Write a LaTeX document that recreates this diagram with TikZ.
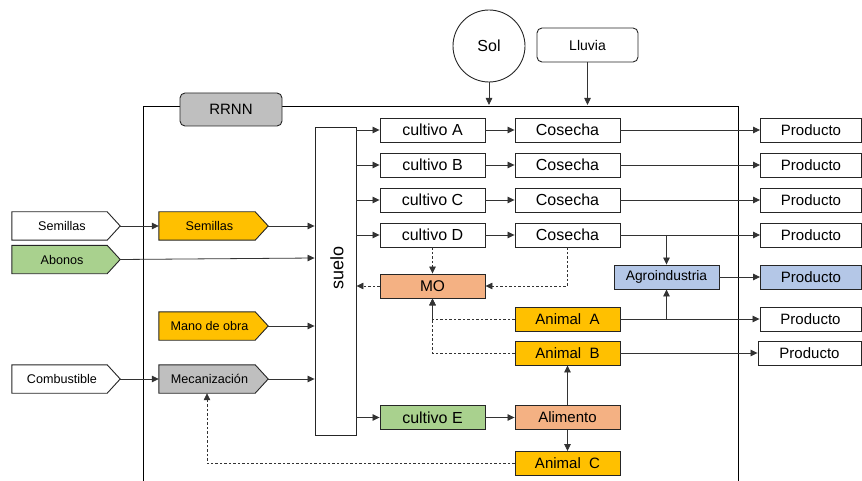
\documentclass[tikz,border=0pt]{standalone}
\usepackage{fontspec}
\setmainfont{Liberation Sans}
\usetikzlibrary{arrows.meta,calc}
\definecolor{cOrange}{HTML}{FFC000}
\definecolor{cGreen}{HTML}{A9D18E}
\definecolor{cSalmon}{HTML}{F4B183}
\definecolor{cBlue}{HTML}{B4C7E7}
\definecolor{cGray}{HTML}{BFBFBF}
\newcommand{\pentnode}[5]{%
  \node[pentarea,minimum width=#3] (#1) at #2 {};
  \filldraw[pentline,fill=#4] (#1.north west) -- ($(#1.north east)+(-13,0)$) -- (#1.east) -- ($(#1.south east)+(-13,0)$) -- (#1.south west) -- cycle;
  \node[font=\fontsize{12.6}{14}\selectfont,inner sep=0pt] at ($(#1.center)+(-4,0)$) {#5};
}
\begin{document}
\begin{tikzpicture}[x=1pt,y=-1pt,
  box/.style={draw=black!85,line width=0.9pt,rectangle,minimum width=105pt,minimum height=24pt,inner sep=0pt,font=\fontsize{16}{18}\selectfont},
  prodbox/.style={box,minimum width=101pt,font=\fontsize{15}{17}\selectfont},
  pentarea/.style={rectangle,minimum height=28pt,inner sep=0pt},
  pentline/.style={draw=black!85,line width=0.9pt},
  conn/.style={draw=black!80,line width=0.8pt,-{Triangle[length=7pt,width=6.5pt]}},
  dconn/.style={draw=black!80,line width=0.7pt,dash pattern=on 2.5pt off 2pt,-{Triangle[length=7pt,width=6.5pt]}}]
\useasboundingbox (0,0) rectangle (862,481);
% big frame
\draw[line width=0.9pt] (143,481) -- (143,106) -- (738,106) -- (738,481);
\node[draw=black!85,line width=0.9pt,fill=cGray,rounded corners=5pt,minimum width=102pt,minimum height=33pt,inner sep=0pt,font=\fontsize{15}{17}\selectfont] (rrnn) at (231,109.5) {RRNN};
% top inputs
\node[draw=black!85,line width=0.9pt,circle,minimum size=72pt,inner sep=0pt,font=\fontsize{16}{18}\selectfont] (sol) at (489,46) {Sol};
\node[draw=black!85,line width=0.9pt,rounded corners=5pt,minimum width=101pt,minimum height=34pt,inner sep=0pt,font=\fontsize{14}{16}\selectfont] (lluvia) at (587.5,45) {Lluvia};
\coordinate (solin) at (489,105);
\coordinate (lluin) at (587.5,105);
\draw[conn] (sol.south) -- (solin);
\draw[conn] (lluvia.south) -- (lluin);
% suelo
\node[draw=black!85,line width=0.9pt,minimum width=41pt,minimum height=308pt,inner sep=0pt] (suelo) at (335.5,281) {};
\node[rotate=90,font=\fontsize{18}{20}\selectfont] at (337,268) {suelo};
% crops
\node[box] (cA) at (432.5,130) {cultivo A};
\node[box] (cB) at (432.5,165) {cultivo B};
\node[box] (cC) at (432.5,200) {cultivo C};
\node[box] (cD) at (432.5,235) {cultivo D};
\node[box,fill=cGreen] (cE) at (432.5,417.5) {cultivo E};
\node[box] (kA) at (567.5,130) {Cosecha};
\node[box] (kB) at (567.5,165) {Cosecha};
\node[box] (kC) at (567.5,200) {Cosecha};
\node[box] (kD) at (567.5,235) {Cosecha};
\node[prodbox] (pA) at (811,130) {Producto};
\node[prodbox] (pB) at (811,165) {Producto};
\node[prodbox] (pC) at (811,200) {Producto};
\node[prodbox] (pD) at (811,235) {Producto};
\node[prodbox,fill=cBlue] (pG) at (811,277) {Producto};
\node[prodbox] (pAA) at (810.5,319) {Producto};
\node[prodbox,minimum width=103pt] (pAB) at (809.5,353) {Producto};
\node[box,fill=cSalmon,font=\fontsize{15.5}{17}\selectfont] (mo) at (432.5,286) {MO};
\node[box,fill=cBlue,font=\fontsize{13.8}{16}\selectfont] (agro) at (666.5,277) {Agroindustria};
\node[box,fill=cOrange,font=\fontsize{15}{17}\selectfont] (aA) at (567.5,319) {Animal\ \ A};
\node[box,fill=cOrange,font=\fontsize{15}{17}\selectfont] (aB) at (567.5,353) {Animal\ \ B};
\node[box,fill=cSalmon,font=\fontsize{15}{17}\selectfont] (ali) at (567.5,417.5) {Alimento};
\node[box,fill=cOrange,font=\fontsize{15}{17}\selectfont] (aC) at (567.5,463.5) {Animal\ \ C};
% left inputs
\pentnode{semW}{(66,226)}{108pt}{white}{Semillas}
\pentnode{abo}{(66,259.5)}{108pt}{cGreen}{Abonos}
\pentnode{comb}{(66,379)}{108pt}{white}{Combustible}
\pentnode{semO}{(213.5,226)}{109pt}{cOrange}{Semillas}
\pentnode{mano}{(213.5,326)}{109pt}{cOrange}{Mano de obra}
\pentnode{mec}{(213.5,379)}{109pt}{cGray}{Mecanización}
% connectors left
\draw[conn] (semW.east) -- (semO.west);
\draw[conn] (comb.east) -- (mec.west);
\draw[conn] (semO.east) -- (semO.east -| suelo.west);
\draw[conn] (abo.east) -- ($(suelo.west |- abo.east)+(0,-1.5)$);
\draw[conn] (mano.east) -- (mano.east -| suelo.west);
\draw[conn] (mec.east) -- (mec.east -| suelo.west);
% suelo to crops
\foreach \c in {cA,cB,cC,cD,cE} \draw[conn] (suelo.east |- \c.west) -- (\c.west);
\foreach \c/\k in {cA/kA,cB/kB,cC/kC,cD/kD} \draw[conn] (\c.east) -- (\k.west);
\foreach \k/\p in {kA/pA,kB/pB,kC/pC,kD/pD} \draw[conn] (\k.east) -- (\p.west);
\coordinate (jD) at (agro.north |- kD.east);
\draw[conn] (jD) -- (agro.north);
\draw[conn] (agro.east) -- (pG.west);
\draw[conn] (aA.east) -- (pAA.west);
\coordinate (jA) at (agro.south |- aA.east);
\draw[conn] (jA) -- (agro.south);
\draw[conn] (aB.east) -- (pAB.west);
\draw[conn] (cE.east) -- (ali.west);
\draw[conn] (ali.north) -- (aB.south);
\draw[conn] (ali.south) -- (aC.north);
% dashed
\draw[dconn] (cD.south) -- (mo.north);
\draw[dconn] (kD.south) |- (mo.east);
\draw[dconn] (mo.west) -- (mo.west -| suelo.east);
\draw[dconn] (aA.west) -| (mo.south);
\draw[dconn] (aB.west) -| (mo.south);
\draw[dconn] (aC.west) -| ($(mec.south)+(-6.5,0)$);
\end{tikzpicture}
\end{document}
